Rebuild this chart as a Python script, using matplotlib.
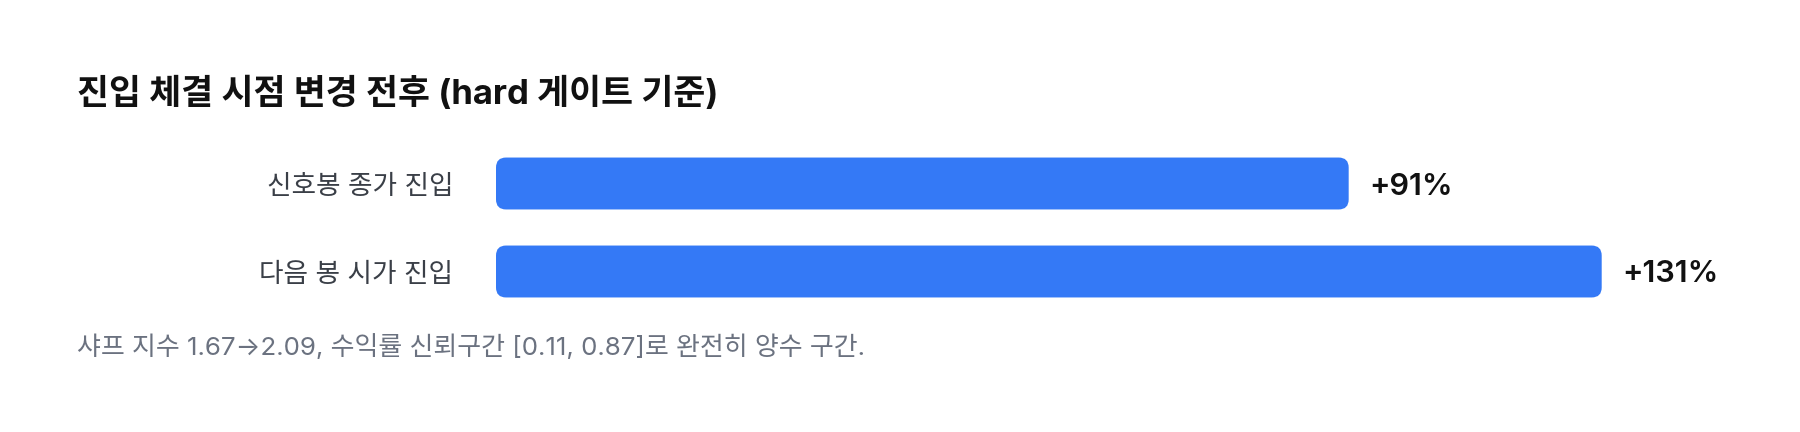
import numpy as np
import matplotlib
matplotlib.use("Agg")
import matplotlib.pyplot as plt
from matplotlib.patches import FancyBboxPatch

# data
categories = ["신호봉 종가 진입", "다음 봉 시가 진입"]
values = [91, 131]
value_labels = ["+91%", "+131%"]
title = "진입 체결 시점 변경 전후 (hard 게이트 기준)"
note = "샤프 지수 1.67→2.09, 수익률 신뢰구간 [0.11, 0.87]로 완전히 양수 구간."

# style
W, H, DPI = 1800, 432, 100
BAR_COLOR = "#3479f6"
BAR_BASE = -43.8          # track origin used by the original layout
FONTS = ["Inter", "Noto Sans CJK KR", "DejaVu Sans"]
plt.rcParams["font.family"] = FONTS

fig = plt.figure(figsize=(W / DPI, H / DPI), dpi=DPI)
fig.patch.set_facecolor("white")

# axes placed so bars sit where they are in the reference (pixel boxes)
x0_px, x1_px = 496, 1601.7
top_px, bot_px = 139.5, 315.5
ax = fig.add_axes([x0_px / W, 1 - bot_px / H, (x1_px - x0_px) / W, (bot_px - top_px) / H])
ax.set_xlim(BAR_BASE, max(values))
ax.set_ylim(len(values) - 0.5, -0.5)
ax.axis("off")

y = np.arange(len(values))
bar_h = 0.59
px_per_x = (x1_px - x0_px) / (max(values) - BAR_BASE)
px_per_y = (bot_px - top_px) / len(values)
radius_px = 10
for yi, v in zip(y, values):
    p = FancyBboxPatch((BAR_BASE, yi - bar_h / 2), v - BAR_BASE, bar_h,
                       boxstyle=f"round,pad=0,rounding_size={radius_px / px_per_x}",
                       mutation_aspect=px_per_x / px_per_y,
                       facecolor=BAR_COLOR, edgecolor="none")
    ax.add_patch(p)

for yi, cat, v, lab in zip(y, categories, values, value_labels):
    ax.annotate(cat, xy=(BAR_BASE, yi), xytext=(-43, 0), textcoords="offset pixels",
                ha="right", va="center_baseline", fontsize=19.2, color="#3a3f47",
                annotation_clip=False)
    ax.annotate(lab, xy=(v, yi), xytext=(21, 0), textcoords="offset pixels",
                ha="left", va="center_baseline", fontsize=22, fontweight="semibold",
                color="#111111", annotation_clip=False)

fig.text(77 / W, 1 - 104 / H, title, ha="left", va="baseline",
         fontsize=25, fontweight="bold", color="#111111")
fig.text(77 / W, 1 - 355 / H, note, ha="left", va="baseline",
         fontsize=18.7, color="#6b7280")

fig.savefig("out.png", dpi=DPI, facecolor="white")
